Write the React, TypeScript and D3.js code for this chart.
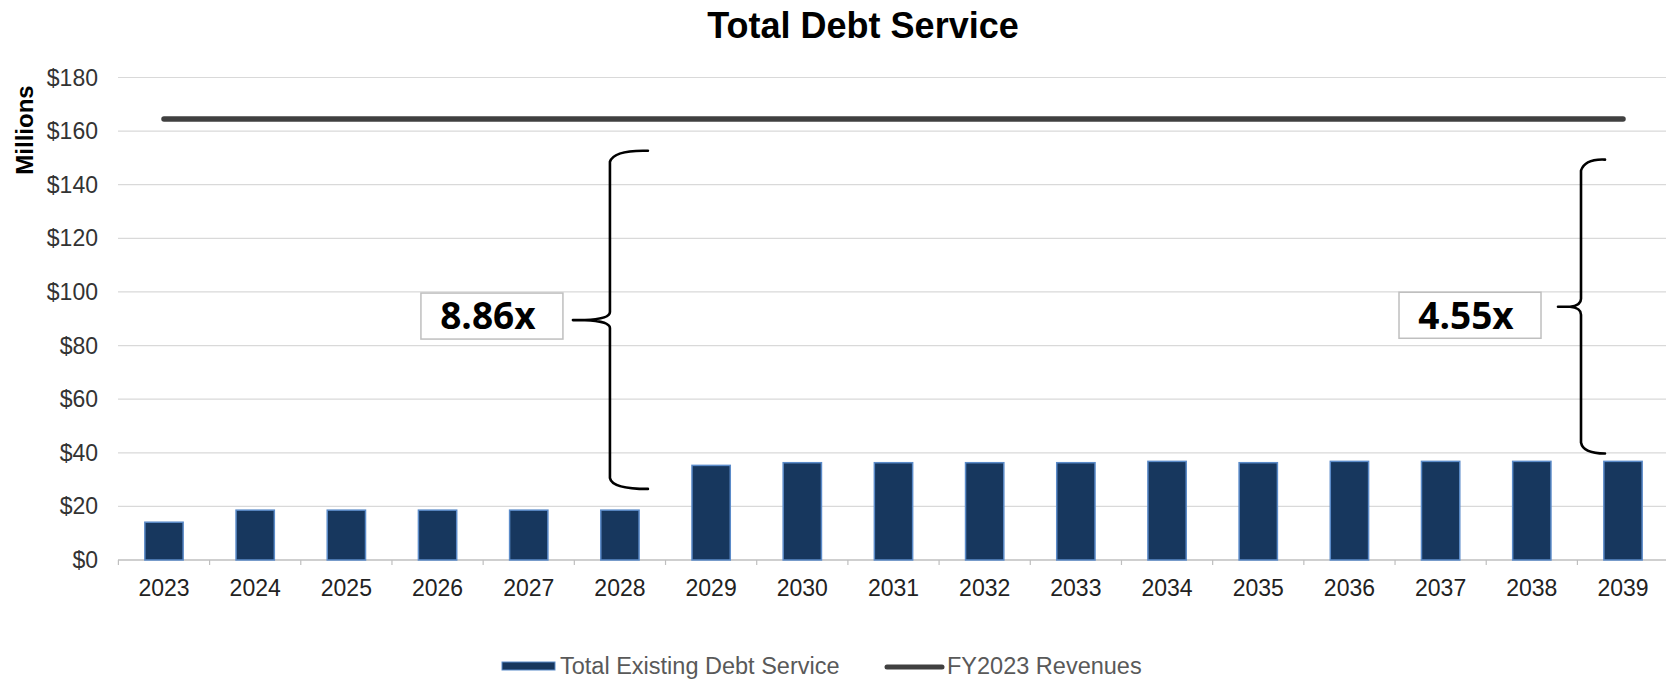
import React from "react";
import * as d3 from "d3";

const years = ["2023","2024","2025","2026","2027","2028","2029","2030","2031","2032","2033","2034","2035","2036","2037","2038","2039"];
const debtService = [14.1, 18.6, 18.6, 18.6, 18.6, 18.6, 35.3, 36.3, 36.3, 36.3, 36.3, 36.8, 36.3, 36.8, 36.8, 36.8, 36.8];
const revenues = 164.5;
const yTicks = [0, 20, 40, 60, 80, 100, 120, 140, 160, 180];

const annotations = [
  { label: "8.86x", year: "2028", top: 152.3, bottom: 26.9, mid: 89.5, dx: -10, tip: 38, left: 37, boxCx: -118, boxMid: 91 },
  { label: "4.55x", year: "2039", top: 149, bottom: 40.1, mid: 94.5, dx: -42, tip: 24, left: 23, boxCx: -111, boxMid: 91.3 },
];

const W = 1666, H = 679;
const FONT = "'Liberation Sans', Arial, sans-serif";

export default function App() {
  const x = d3.scaleBand<string>().domain(years).range([118.4, 1668.6]).paddingInner(0.58).paddingOuter(0.29);
  const y = d3.scaleLinear().domain([0, 180]).range([560, 77.5]);
  const step = x.step();
  const cx = (yr: string) => (x(yr) as number) + x.bandwidth() / 2;

  const bracePath = (a: typeof annotations[0]) => {
    const vx = cx(a.year) + a.dx;
    const yt = y(a.top), yb = y(a.bottom), ym = y(a.mid);
    const r = 10;
    return [
      `M${vx + a.tip},${yt - 1}`,
      `Q${vx + 4},${yt - 2} ${vx},${yt + r}`,
      `L${vx},${ym - 8}`,
      `Q${vx},${ym - 1} ${vx - a.left + 12},${ym}`,
      `L${vx - a.left},${ym}`,
      `M${vx - a.left + 12},${ym}`,
      `Q${vx},${ym + 1} ${vx},${ym + 8}`,
      `L${vx},${yb - r}`,
      `Q${vx + 2},${yb + 1} ${vx + a.tip},${yb + 1}`,
    ].join(" ");
  };

  return (
    <svg width={W} height={H} style={{ position: "absolute", left: 0, top: 0, background: "#fff" }} fontFamily={FONT}>
      <text x={863} y={38} textAnchor="middle" fontSize={36} fontWeight="bold" fill="#000">Total Debt Service</text>
      <text transform={`translate(33,130) rotate(-90)`} textAnchor="middle" fontSize={24} fontWeight="bold" fill="#000">Millions</text>

      {yTicks.map((t) => (
        <g key={t}>
          <line x1={118} x2={W} y1={y(t)} y2={y(t)} stroke={t === 0 ? "#bfbfbf" : "#d9d9d9"} strokeWidth={t === 0 ? 1.5 : 1.2} />
          <text x={98} y={y(t)} dy="0.35em" textAnchor="end" fontSize={23} fill="#333">{"$" + t}</text>
        </g>
      ))}

      {years.map((yr) => (
        <line key={"tk" + yr} x1={(x(yr) as number) - (step - x.bandwidth()) / 2} x2={(x(yr) as number) - (step - x.bandwidth()) / 2} y1={560} y2={565} stroke="#bfbfbf" strokeWidth={1.2} />
      ))}

      {years.map((yr, i) => (
        <rect key={yr} x={x(yr)} y={y(debtService[i])} width={x.bandwidth()} height={y(0) - y(debtService[i])} fill="#17375e" stroke="#5b8bc9" strokeWidth={1.5} />
      ))}

      {years.map((yr) => (
        <text key={"l" + yr} x={cx(yr)} y={596} textAnchor="middle" fontSize={23} fill="#222">{yr}</text>
      ))}

      <line x1={cx(years[0])} x2={cx(years[years.length - 1])} y1={y(revenues)} y2={y(revenues)} stroke="#404040" strokeWidth={5.5} strokeLinecap="round" />

      {annotations.map((a) => {
        const bx = cx(a.year) + a.dx + a.boxCx;
        const by = y(a.boxMid);
        return (
          <g key={a.label}>
            <path d={bracePath(a)} fill="none" stroke="#000" strokeWidth={2.6} strokeLinecap="round" strokeLinejoin="round" />
            <rect x={bx - 71} y={by - 23} width={142} height={46} fill="#fff" stroke="#bfbfbf" strokeWidth={1.5} />
            <text x={bx - 4} y={by} dy="0.36em" textAnchor="middle" fontSize={37} fontWeight="bold" fontFamily="'Open Sans', sans-serif" fill="#000">{a.label}</text>
          </g>
        );
      })}

      <rect x={502} y={662} width={53} height={8} fill="#17375e" stroke="#5b8bc9" strokeWidth={1} />
      <text x={560} y={674} fontSize={23.5} fill="#595959">Total Existing Debt Service</text>
      <line x1={887} x2={942} y1={667} y2={667} stroke="#404040" strokeWidth={5} strokeLinecap="round" />
      <text x={947} y={674} fontSize={23.5} fill="#595959">FY2023 Revenues</text>
    </svg>
  );
}
